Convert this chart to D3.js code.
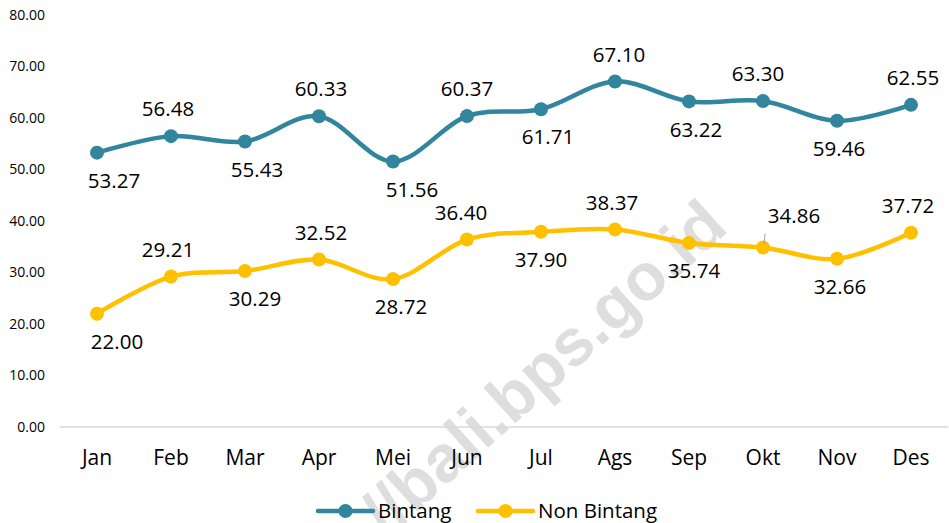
<!DOCTYPE html>
<html>
<head>
<meta charset="utf-8">
<script src="https://cdn.jsdelivr.net/npm/d3@7"></script>
<style>
  html, body { margin: 0; padding: 0; background: #fff; }
  svg { display: block; font-family: "Open Sans", sans-serif; }
</style>
</head>
<body>
<div id="chart"></div>
<script>
const months = ["Jan", "Feb", "Mar", "Apr", "Mei", "Jun", "Jul", "Ags", "Sep", "Okt", "Nov", "Des"];
const bintang = [53.27, 56.48, 55.43, 60.33, 51.56, 60.37, 61.71, 67.10, 63.22, 63.30, 59.46, 62.55];
const nonBintang = [22.00, 29.21, 30.29, 32.52, 28.72, 36.40, 37.90, 38.37, 35.74, 34.86, 32.66, 37.72];
const yTicks = [0, 10, 20, 30, 40, 50, 60, 70, 80];

// label nudges (layout only, px)
const bintangNudge = [17, -3, 12, 2, 19, 0, 7, 4, 7, -5, 2, 2];
const nonNudge = [20, -3, 10, 2, 8, -6, 0, -3, 5, 31, 3, -3];

const width = 949, height = 523;
const svg = d3.select("#chart").append("svg")
  .attr("width", width)
  .attr("height", height);

const x = d3.scaleBand().domain(months).range([60, 948]);
const y = d3.scaleLinear().domain([0, 80]).range([427, 15]);
const cx = m => x(m) + x.bandwidth() / 2;

// watermark
svg.append("text")
  .attr("transform", "translate(730,230) rotate(-42)")
  .attr("text-anchor", "end")
  .attr("font-family", "Liberation Sans, Arial, sans-serif")
  .attr("font-weight", "bold")
  .attr("font-size", 66)
  .attr("fill", "#dedede")
  .text("//bali.bps.go.id");

// baseline
svg.append("line")
  .attr("x1", 60).attr("x2", 948)
  .attr("y1", y(0)).attr("y2", y(0))
  .attr("stroke", "#d9d9d9")
  .attr("stroke-width", 1.5);

// y tick labels
svg.append("g").selectAll("text")
  .data(yTicks)
  .enter().append("text")
  .attr("x", 45)
  .attr("y", d => y(d))
  .attr("dy", "0.35em")
  .attr("text-anchor", "end")
  .attr("font-size", 14)
  .attr("fill", "#000")
  .text(d => d.toFixed(2));

// x labels
svg.append("g").selectAll("text")
  .data(months)
  .enter().append("text")
  .attr("x", d => cx(d))
  .attr("y", 465)
  .attr("text-anchor", "middle")
  .attr("font-size", 21)
  .attr("fill", "#000")
  .text(d => d);

const series = [
  { name: "Bintang", values: bintang, color: "#31859c", nudge: bintangNudge },
  { name: "Non Bintang", values: nonBintang, color: "#ffc000", nudge: nonNudge }
];

const line = d3.line()
  .x((d, i) => cx(months[i]))
  .y(d => y(d))
  .curve(d3.curveCatmullRom.alpha(0));

series.forEach(s => {
  const g = svg.append("g");
  g.append("path")
    .datum(s.values)
    .attr("d", line)
    .attr("fill", "none")
    .attr("stroke", s.color)
    .attr("stroke-width", 4.5)
    .attr("stroke-linecap", "round");

  g.selectAll("circle")
    .data(s.values)
    .enter().append("circle")
    .attr("cx", (d, i) => cx(months[i]))
    .attr("cy", d => y(d))
    .attr("r", 7)
    .attr("fill", s.color);

  g.selectAll("text")
    .data(s.values)
    .enter().append("text")
    .attr("x", (d, i) => cx(months[i]) + s.nudge[i])
    .attr("y", (d, i) => {
      if (s.name === "Non Bintang" && months[i] === "Okt") return y(d) - 32;
      return i % 2 === 0 ? y(d) + 28 : y(d) - 27;
    })
    .attr("dy", "0.35em")
    .attr("text-anchor", "middle")
    .attr("font-size", 20.5)
    .attr("fill", "#000")
    .text(d => d.toFixed(2));
});

// leader line for Okt Non Bintang
const oktVal = nonBintang[months.indexOf("Okt")];
svg.append("line")
  .attr("x1", cx("Okt") + 1).attr("y1", y(oktVal) - 3)
  .attr("x2", cx("Okt") + 2).attr("y2", y(oktVal) - 14)
  .attr("stroke", "#a6a6a6")
  .attr("stroke-width", 1);

// legend
const legend = svg.append("g");
const legendItems = [
  { name: "Bintang", color: "#31859c", x: 318 },
  { name: "Non Bintang", color: "#ffc000", x: 478 }
];
legendItems.forEach(it => {
  legend.append("line")
    .attr("x1", it.x).attr("x2", it.x + 55)
    .attr("y1", 511).attr("y2", 511)
    .attr("stroke", it.color)
    .attr("stroke-width", 4.5)
    .attr("stroke-linecap", "round");
  legend.append("circle")
    .attr("cx", it.x + 27.5).attr("cy", 511)
    .attr("r", 7)
    .attr("fill", it.color);
  legend.append("text")
    .attr("x", it.x + 60)
    .attr("y", 518)
    .attr("font-size", 20.5)
    .attr("fill", "#000")
    .text(it.name);
});
</script>
</body>
</html>
